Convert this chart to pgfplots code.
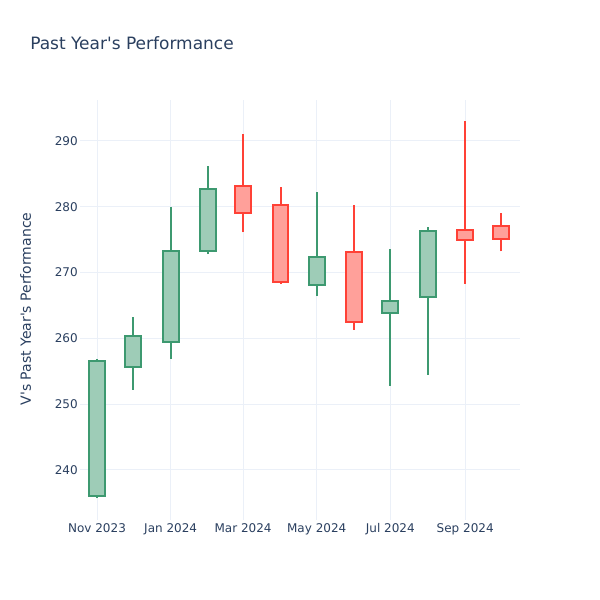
\documentclass[border=0pt]{standalone}
\usepackage{pgfplots}
\pgfplotsset{compat=1.18}
\usepackage{fontspec}
\setmainfont{DejaVu Sans}
\definecolor{txt}{HTML}{2A3F5F}
\definecolor{grd}{HTML}{EBF0F8}
\definecolor{inc}{HTML}{3D9970}
\definecolor{dec}{HTML}{FF4136}
% x, left, right, open, high, low, close, colour
\newcommand\candle[8]{%
  \addplot[draw=#8, line width=1.5pt] coordinates {(#1,#6) (#1,#5)};
  \addplot[draw=#8, fill=#8!50!white, line width=1.5pt, line join=miter] coordinates {(#2,#4) (#3,#4) (#3,#7) (#2,#7)} -- cycle;
}
\begin{document}
\begin{tikzpicture}
\begin{axis}[
  width=330pt, height=315pt, scale only axis,
  xmin=-14.1, xmax=350.4, ymin=232.4, ymax=296.2,
  axis line style={draw=none},
  tick style={draw=none},
  major tick length=0pt,
  grid=major,
  grid style={grd, line width=0.75pt},
  xtick={0,61,121,182,243,305},
  xticklabels={Nov 2023,Jan 2024,Mar 2024,May 2024,Jul 2024,Sep 2024},
  ytick={240,250,...,290},
  /pgf/number format/assume math mode=true,
  ticklabel style={text=txt, font=\fontsize{9}{11}\selectfont},
  yticklabel style={inner sep=0pt, xshift=-1.5pt},
  xticklabel style={inner sep=0pt, yshift=-2.5pt},
  clip=false,
]
\coordinate (ll) at (rel axis cs:0,0);
\coordinate (ur) at (rel axis cs:1,1);
\coordinate (lm) at (rel axis cs:0,0.5);
\candle{0}{-6.6}{6.6}{236.1}{256.8}{235.7}{256.6}{inc}
\candle{30}{23.4}{36.6}{255.7}{263.2}{252.2}{260.4}{inc}
\candle{61}{54.4}{67.6}{259.5}{279.9}{256.9}{273.2}{inc}
\candle{92}{85.4}{98.6}{273.3}{286.1}{272.8}{282.7}{inc}
\candle{121}{114.4}{127.6}{283.2}{291.0}{276.1}{279.0}{dec}
\candle{152}{145.4}{158.6}{280.3}{283.0}{268.3}{268.6}{dec}
\candle{182}{175.4}{188.6}{268.1}{282.3}{266.5}{272.4}{inc}
\candle{213}{206.4}{219.6}{273.1}{280.3}{261.3}{262.5}{dec}
\candle{243}{236.4}{249.6}{263.8}{273.5}{252.8}{265.6}{inc}
\candle{274}{267.4}{280.6}{266.3}{276.9}{254.5}{276.3}{inc}
\candle{305}{298.4}{311.6}{276.4}{293.0}{268.3}{275.0}{dec}
\candle{335}{328.4}{341.6}{277.0}{279.0}{273.2}{275.1}{dec}
\end{axis}
\pgfresetboundingbox
\path[use as bounding box] ([shift={(-60pt,-60pt)}]ll) rectangle ([shift={(60pt,75pt)}]ur);
\node[anchor=base west, inner sep=0pt, text=txt, font=\fontsize{12.75}{15}\selectfont] at ([shift={(-37.5pt,37.5pt)}]ll|-ur) {Past Year\textquotesingle s Performance};
\node[anchor=base, rotate=90, inner sep=0pt, text=txt, font=\fontsize{10.5}{12}\selectfont] at ([shift={(-36.75pt,0.75pt)}]lm) {V\textquotesingle s Past Year\textquotesingle s Performance};
\end{tikzpicture}
\end{document}
